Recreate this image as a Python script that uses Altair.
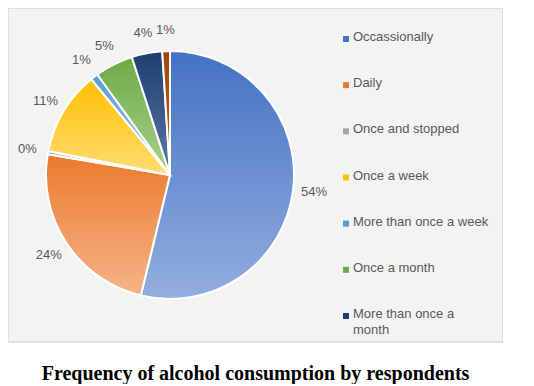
import altair as alt
import pandas as pd

categories = ["Occassionally", "Daily", "Once and stopped", "Once a week",
              "More than once a week", "Once a month", "More than once a month", "Other"]
values = [54, 24, 0.4, 11, 1, 5, 4, 1]
labels = ["54%", "24%", "0%", "11%", "1%", "5%", "4%", "1%"]
top_colors = ["#4472C4", "#EB7A2E", "#A5A5A5", "#FFC000", "#5B9BD5", "#6EAA45", "#203D70", "#9E480E"]
bottom_colors = ["#93AEDF", "#F6B487", "#CFCFCF", "#FFDC73", "#A3C6E8", "#A9D18E", "#5A78AC", "#C55A11"]
legend_names = categories[:7]
legend_texts = ["Occassionally", "Daily", "Once and stopped", "Once a week",
                "More than once a week", "Once a month", "More than once a\nmonth"]

df = pd.DataFrame({"category": categories, "value": values, "label": labels,
                   "order": list(range(len(categories)))})
legend_df = pd.DataFrame({"name": legend_names, "text": legend_texts})

CX, CY = 162, 167
FONT = "Liberation Sans"
GRAY = "#595959"

base = (alt.Chart(df)
        .transform_joinaggregate(total="sum(value)")
        .transform_window(cum="sum(value)", sort=[alt.SortField("order")])
        .transform_calculate(t0="(datum.cum - datum.value) / datum.total",
                             t1="datum.cum / datum.total",
                             tm="(datum.cum - datum.value / 2) / datum.total"))

theta_scale = alt.Scale(domain=[0, 1])

arcs = []
for cat, c0, c1 in zip(categories, top_colors, bottom_colors):
    grad = alt.Gradient(gradient="linear", x1=0, y1=0, x2=0, y2=1,
                        stops=[alt.GradientStop(color=c0, offset=0),
                               alt.GradientStop(color=c1, offset=1)])
    arcs.append(
        base.transform_filter(alt.datum.category == cat)
        .mark_arc(radius=124, fill=grad, stroke="white", strokeWidth=2)
        .encode(theta=alt.Theta("t0:Q", scale=theta_scale, stack=None),
                theta2="t1:Q",
                x=alt.value(CX), y=alt.value(CY))
    )

pct = (base.mark_text(radius=145, font=FONT, fontSize=13, color=GRAY)
       .encode(theta=alt.Theta("tm:Q", scale=theta_scale, stack=None),
               text="label:N", x=alt.value(CX), y=alt.value(CY)))

leg_y = alt.Y("name:N", scale=alt.Scale(type="point", domain=legend_names, range=[31, 308], padding=0),
              axis=None)
leg_sq = (alt.Chart(legend_df).mark_square(size=36, opacity=1)
          .encode(x=alt.value(338), y=leg_y,
                  color=alt.Color("name:N", scale=alt.Scale(domain=legend_names, range=top_colors[:7]),
                                  legend=None)))
leg_tx = (alt.Chart(legend_df).mark_text(align="left", baseline="top", dy=-8, font=FONT, fontSize=13,
                                        color=GRAY, lineBreak="\n", lineHeight=16)
          .encode(x=alt.value(345), y=leg_y, text="text:N"))

chart = (alt.layer(*arcs, pct, leg_sq, leg_tx)
         .properties(width=495, height=334, padding=0,
                     title=alt.TitleParams("Frequency of alcohol consumption by respondents",
                                           orient="bottom", anchor="middle", font="Liberation Serif",
                                           fontSize=20, fontWeight="bold", color="black", offset=22))
         .configure_view(stroke="#d9d9d9", strokeWidth=1.5, fill="#f3f3f3"))

chart.save("out.html", embed_options={"renderer": "svg", "actions": False})
